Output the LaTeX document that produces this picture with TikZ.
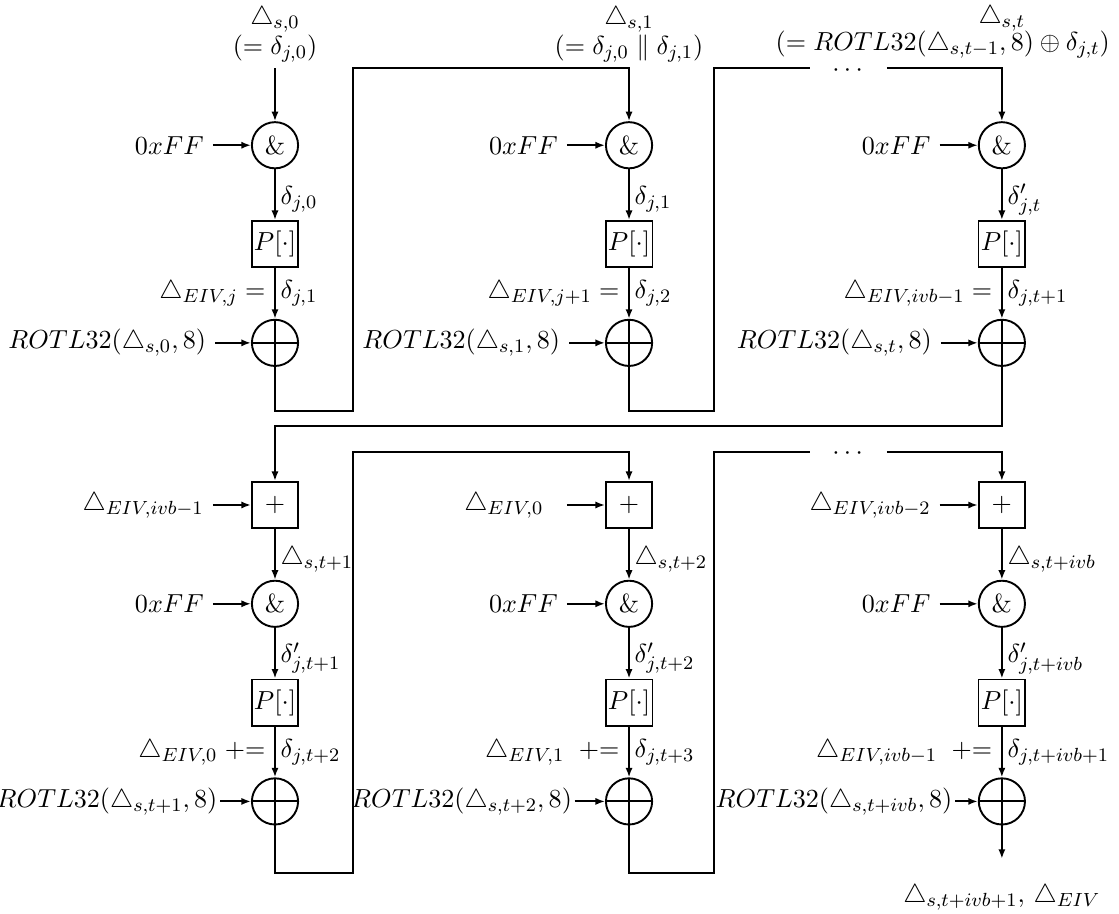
\documentclass[11pt,tikz,border=0pt]{standalone}
\usetikzlibrary{arrows.meta,positioning}
\begin{document}
\begin{tikzpicture}[node distance=41.5pt,
        op/.style={draw, thick, circle, minimum size=19.4pt, inner sep=0pt},
        xorop/.style={op, path picture={\draw[thick] (path picture bounding box.north) -- (path picture bounding box.south) (path picture bounding box.west) -- (path picture bounding box.east);}},
        sqbox/.style={draw, thick, rectangle, minimum size=19.4pt, inner sep=1pt},
        arr/.style={thick, -{Latex[length=4pt,width=3pt]}},
        wire/.style={thick},
        lbl/.style={inner sep=2pt}]
        \useasboundingbox (0pt,0pt) rectangle (470pt,-383.5pt);

        % first round
        \coordinate (c0) at (115.5pt,-28.6pt);
        \node[op] (and1) at (115.5pt,-61pt) {\&};
        \node[sqbox, below of=and1] (perm1) {$P[\cdot]$};
        \node[xorop, below of=perm1] (xor1) {};
        \node[op] (and2) at (264.2pt,-61pt) {\&};
        \node[sqbox, below of=and2] (perm2) {$P[\cdot]$};
        \node[xorop, below of=perm2] (xor2) {};
        \node[op] (and3) at (420.8pt,-61pt) {\&};
        \node[sqbox, below of=and3] (perm3) {$P[\cdot]$};
        \node[xorop, below of=perm3] (xor3) {};

        \node[above=1.3pt, inner sep=1pt, align=center] (s0) at (c0) {$\triangle_{s,0}$\\[-1pt]$(=\delta_{j,0})$};
        \node[above=1.3pt, inner sep=1pt, align=center] (s1) at (264.2pt,-28.6pt) {$\triangle_{s,1}$\\[-1pt]$(=\delta_{j,0}\parallel\delta_{j,1})$};
        \node[inner sep=1pt] (s2) at (420.8pt,-7.5pt) {$\triangle_{s,t}$};
        \node[anchor=east, inner ysep=0.5pt] (s2eq) at (470pt,-18.6pt) {$(=ROTL32(\triangle_{s,t-1},8)\oplus\delta_{j,t})$};

        \node[left=16pt of and1] (ff1) {$0xFF$};
        \node[left=16pt of and2] (ff2) {$0xFF$};
        \node[left=16pt of and3] (ff3) {$0xFF$};
        \node[left=15pt of xor1] (rot1) {$ROTL32(\triangle_{s,0},8)$};
        \node[left=15pt of xor2] (rot2) {$ROTL32(\triangle_{s,1},8)$};
        \node[left=15.5pt of xor3] (rot3) {$ROTL32(\triangle_{s,t},8)$};

        \draw[arr] (c0) -- (and1);
        \foreach \i in {1,2,3} {
            \draw[arr] (ff\i) -- (and\i);
            \draw[arr] (rot\i) -- (xor\i);
        }
        \draw[arr] (and1) -- node[lbl, right, pos=0.6] {$\delta_{j,0}$} (perm1);
        \draw[arr] (perm1) -- node[lbl, right] {$\delta_{j,1}$} node[left] {$\triangle_{EIV,j} =$} (xor1);
        \draw[arr] (and2) -- node[lbl, right, pos=0.6] {$\delta_{j,1}$} (perm2);
        \draw[arr] (perm2) -- node[lbl, right] {$\delta_{j,2}$} node[left] {$\triangle_{EIV,j+1} =$} (xor2);
        \draw[arr] (and3) -- node[lbl, right, pos=0.6] {$\delta'_{j,t}$} (perm3);
        \draw[arr] (perm3) -- node[lbl, right] {$\delta_{j,t+1}$} node[left] {$\triangle_{EIV,ivb-1} =$} (xor3);

        \coordinate (k1) at (148.3pt,-28.6pt);
        \coordinate (k2) at (299.9pt,-28.6pt);
        \coordinate (g1) at (340.2pt,-28.6pt);
        \coordinate (g2) at (372.5pt,-28.6pt);
        \node[inner sep=0pt] (d1) at (356pt,-29.8pt) {$\cdots$};
        \draw[arr] (xor1) -- ++(0,-28.5pt) -| (k1) -| (and2);
        \draw[wire] (xor2) -- ++(0,-28.5pt) -| (k2) -- (g1);
        \draw[arr] (g2) -| (and3);

        % next rounds
        \node[sqbox] (add4) at (115.5pt,-212.1pt) {$+$};
        \node[op, below of=add4] (and4) {\&};
        \node[sqbox, below of=and4] (perm4) {$P[\cdot]$};
        \node[xorop, below of=perm4] (xor4) {};
        \node[sqbox] (add5) at (264.2pt,-212.1pt) {$+$};
        \node[op, below of=add5] (and5) {\&};
        \node[sqbox, below of=and5] (perm5) {$P[\cdot]$};
        \node[xorop, below of=perm5] (xor5) {};
        \node[sqbox] (add6) at (420.8pt,-212.1pt) {$+$};
        \node[op, below of=add6] (and6) {\&};
        \node[sqbox, below of=and6] (perm6) {$P[\cdot]$};
        \node[xorop, below of=perm6] (xor6) {};

        \draw[arr] (xor3) -- ++(0,-34.8pt) -| (add4);

        \node[left=16pt of add4] (eiv4) {$\triangle_{EIV,ivb-1}$};
        \node[left=22pt of add5] (eiv5) {$\triangle_{EIV,0}$};
        \node[left=16pt of add6] (eiv6) {$\triangle_{EIV,ivb-2}$};
        \node[left=16pt of and4] (ff4) {$0xFF$};
        \node[left=16pt of and5] (ff5) {$0xFF$};
        \node[left=16pt of and6] (ff6) {$0xFF$};
        \node[left=12.9pt of xor4, inner xsep=1pt] (rot4) {$ROTL32(\triangle_{s,t+1},8)$};
        \node[left=12.7pt of xor5, inner xsep=1pt] (rot5) {$ROTL32(\triangle_{s,t+2},8)$};
        \node[left=9.5pt of xor6, inner xsep=1pt] (rot6) {$ROTL32(\triangle_{s,t+ivb},8)$};
        \node[below=21pt of xor6] (out) {$\triangle_{s,t+ivb+1},\,\triangle_{EIV}$};

        \draw[arr] (eiv4) -- (add4);
        \draw[arr, shorten <=6pt] (eiv5) -- (add5);
        \draw[arr] (eiv6) -- (add6);
        \foreach \i in {4,5,6} {
            \draw[arr] (ff\i) -- (and\i);
            \draw[arr] (rot\i) -- (xor\i);
        }
        \draw[arr] (add4) -- node[lbl, right, pos=0.6] {$\triangle_{s,t+1}$} (and4);
        \draw[arr] (and4) -- node[lbl, right, pos=0.6] {$\delta'_{j,t+1}$} (perm4);
        \draw[arr] (perm4) -- node[lbl, right] {$\delta_{j,t+2}$} node[left] {$\triangle_{EIV,0} \mathrel{+}=$} (xor4);
        \draw[arr] (add5) -- node[lbl, right, pos=0.6] {$\triangle_{s,t+2}$} (and5);
        \draw[arr] (and5) -- node[lbl, right, pos=0.6] {$\delta'_{j,t+2}$} (perm5);
        \draw[arr] (perm5) -- node[lbl, right] {$\delta_{j,t+3}$} node[left] {$\triangle_{EIV,1}\;\mathrel{+}=$} (xor5);
        \draw[arr] (add6) -- node[lbl, right, pos=0.6] {$\triangle_{s,t+ivb}$} (and6);
        \draw[arr] (and6) -- node[lbl, right, pos=0.6] {$\delta'_{j,t+ivb}$} (perm6);
        \draw[arr] (perm6) -- node[lbl, right] {$\delta_{j,t+ivb+1}$} node[left] {$\triangle_{EIV,ivb-1}\;\mathrel{+}=$} (xor6);

        \coordinate (k3) at (148.3pt,-189.8pt);
        \coordinate (k4) at (299.9pt,-189.8pt);
        \coordinate (g3) at (340.2pt,-189.8pt);
        \coordinate (g4) at (372.5pt,-189.8pt);
        \node[inner sep=0pt] (d2) at (356pt,-190.4pt) {$\cdots$};
        \draw[arr] (xor4) -- ++(0,-30.1pt) -| (k3) -| (add5);
        \draw[wire] (xor5) -- ++(0,-30.1pt) -| (k4) -- (g3);
        \draw[arr] (g4) -| (add6);
        \draw[arr, shorten >=7pt] (xor6) -- (out);
    \end{tikzpicture}
\end{document}
